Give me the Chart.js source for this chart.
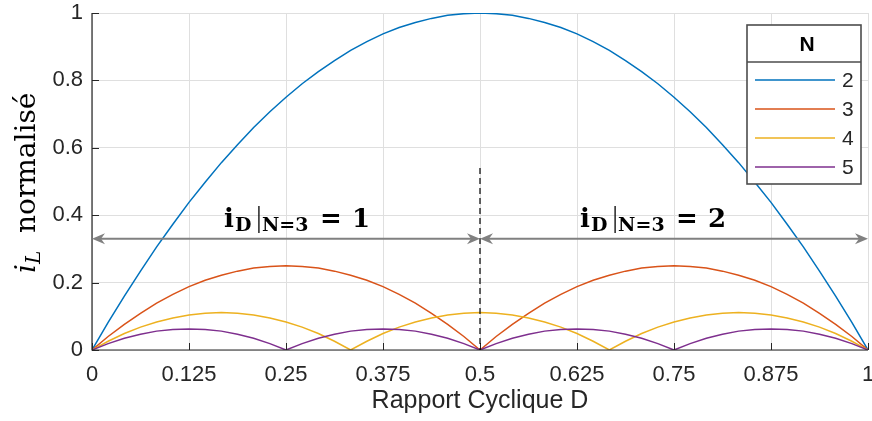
<!DOCTYPE html>
<html>
<head>
<meta charset="utf-8">
<script src="https://cdn.jsdelivr.net/npm/chart.js@4/dist/chart.umd.min.js"></script>
<style>
  html, body { margin: 0; padding: 0; background: #ffffff; }
  #wrap { width: 872px; height: 421px; }
</style>
</head>
<body>
<div id="wrap"><canvas id="c" width="872" height="421"></canvas></div>
<script>
// ---------- DATA ----------
const dutyCycle = [
  0, 0.0208, 0.0417, 0.0625, 0.0833, 0.1042, 0.125, 0.1458, 0.1667, 0.1875,
  0.2083, 0.2292, 0.25, 0.2708, 0.2917, 0.3125, 0.3333, 0.3542, 0.375, 0.3958,
  0.4167, 0.4375, 0.4583, 0.4792, 0.5, 0.5208, 0.5417, 0.5625, 0.5833, 0.6042,
  0.625, 0.6458, 0.6667, 0.6875, 0.7083, 0.7292, 0.75, 0.7708, 0.7917, 0.8125,
  0.8333, 0.8542, 0.875, 0.8958, 0.9167, 0.9375, 0.9583, 0.9792, 1
];
const rippleN2 = [
  0, 0.082, 0.160, 0.234, 0.306, 0.373, 0.438, 0.498, 0.556, 0.609,
  0.660, 0.707, 0.750, 0.790, 0.826, 0.859, 0.889, 0.915, 0.938, 0.957,
  0.972, 0.984, 0.993, 0.998, 1, 0.998, 0.993, 0.984, 0.972, 0.957,
  0.938, 0.915, 0.889, 0.859, 0.826, 0.790, 0.750, 0.707, 0.660, 0.609,
  0.556, 0.498, 0.438, 0.373, 0.306, 0.234, 0.160, 0.082, 0
];
const rippleN3 = [
  0, 0.040, 0.076, 0.109, 0.139, 0.165, 0.188, 0.207, 0.222, 0.234,
  0.243, 0.248, 0.250, 0.248, 0.243, 0.234, 0.222, 0.207, 0.188, 0.165,
  0.139, 0.109, 0.076, 0.040, 0, 0.040, 0.076, 0.109, 0.139, 0.165,
  0.188, 0.207, 0.222, 0.234, 0.243, 0.248, 0.250, 0.248, 0.243, 0.234,
  0.222, 0.207, 0.188, 0.165, 0.139, 0.109, 0.076, 0.040, 0
];
const rippleN4 = [
  0, 0.026, 0.049, 0.068, 0.083, 0.095, 0.104, 0.109, 0.111, 0.109,
  0.104, 0.095, 0.083, 0.068, 0.049, 0.026, 0, 0.026, 0.049, 0.068,
  0.083, 0.095, 0.104, 0.109, 0.111, 0.109, 0.104, 0.095, 0.083, 0.068,
  0.049, 0.026, 0, 0.026, 0.049, 0.068, 0.083, 0.095, 0.104, 0.109,
  0.111, 0.109, 0.104, 0.095, 0.083, 0.068, 0.049, 0.026, 0
];
const rippleN5 = [
  0, 0.019, 0.035, 0.047, 0.056, 0.061, 0.0625, 0.061, 0.056, 0.047,
  0.035, 0.019, 0, 0.019, 0.035, 0.047, 0.056, 0.061, 0.0625, 0.061,
  0.056, 0.047, 0.035, 0.019, 0, 0.019, 0.035, 0.047, 0.056, 0.061,
  0.0625, 0.061, 0.056, 0.047, 0.035, 0.019, 0, 0.019, 0.035, 0.047,
  0.056, 0.061, 0.0625, 0.061, 0.056, 0.047, 0.035, 0.019, 0
];
const seriesNames = ['2', '3', '4', '5'];
const xTickLabels = ['0', '0.125', '0.25', '0.375', '0.5', '0.625', '0.75', '0.875', '1'];
const yTickLabels = ['0', '0.2', '0.4', '0.6', '0.8', '1'];
const xAxisTitle = 'Rapport Cyclique D';
const legendTitle = 'N';
const annotValues = ['1', '2'];

// ---------- STYLE ----------
const seriesColors = ['#0072BD', '#D95319', '#EDB120', '#7E2F8E'];
const axisColor = '#262626';
const gridColor = '#dfdfdf';
const sans = '"Liberation Sans", Arial, Helvetica, sans-serif';
const serif = '"DejaVu Serif", "Liberation Serif", serif';

const seriesValues = [rippleN2, rippleN3, rippleN4, rippleN5];
const datasets = seriesValues.map((vals, k) => ({
  label: seriesNames[k],
  data: dutyCycle.map((d, i) => ({ x: d, y: vals[i] })),
  borderColor: seriesColors[k],
  backgroundColor: seriesColors[k],
  borderWidth: 1.5,
  pointRadius: 0,
  tension: 0,
  fill: false,
  order: seriesValues.length - k
}));

const overlay = {
  id: 'overlay',
  afterDatasetsDraw(chart) {
    const { ctx, chartArea: a, scales } = chart;
    const X = v => scales.x.getPixelForValue(v);
    const Y = v => scales.y.getPixelForValue(v);
    ctx.save();

    // axes (left & bottom) with inward ticks
    ctx.strokeStyle = axisColor;
    ctx.lineWidth = 1.2;
    ctx.beginPath();
    ctx.moveTo(a.left, a.top); ctx.lineTo(a.left, a.bottom); ctx.lineTo(a.right, a.bottom);
    ctx.stroke();
    ctx.lineWidth = 1;
    ctx.beginPath();
    xTickLabels.forEach((_, i) => { const px = Math.round(X(i * 0.125)) + 0.5; ctx.moveTo(px, a.bottom); ctx.lineTo(px, a.bottom - 7); });
    yTickLabels.forEach((_, i) => { const py = Math.round(Y(i * 0.2)) + 0.5; ctx.moveTo(a.left, py); ctx.lineTo(a.left + 7, py); });
    ctx.stroke();

    // dashed vertical separator at D = 0.5
    ctx.strokeStyle = '#000000';
    ctx.lineWidth = 1.2;
    ctx.setLineDash([6, 4]);
    ctx.beginPath();
    ctx.moveTo(X(0.5), Y(0.54)); ctx.lineTo(X(0.5), Y(0));
    ctx.stroke();
    ctx.setLineDash([]);

    // double-headed arrows
    const arrowY = Y(0.33);
    const head = (tx, ty, dir) => {
      ctx.beginPath();
      ctx.moveTo(tx, ty);
      ctx.lineTo(tx - dir * 13, ty - 5.5);
      ctx.lineTo(tx - dir * 9, ty);
      ctx.lineTo(tx - dir * 13, ty + 5.5);
      ctx.closePath();
      ctx.fill();
    };
    ctx.strokeStyle = '#808080';
    ctx.fillStyle = '#808080';
    ctx.lineWidth = 2;
    [[0, 0.5], [0.5, 1]].forEach(([s, e]) => {
      const x1 = X(s), x2 = X(e);
      ctx.beginPath(); ctx.moveTo(x1 + 6, arrowY); ctx.lineTo(x2 - 6, arrowY); ctx.stroke();
      head(x1, arrowY, -1);
      head(x2, arrowY, 1);
    });

    // math annotations  i_D|_{N=3} = k
    const drawMath = (x0, base, val) => {
      ctx.fillStyle = '#000000';
      ctx.textBaseline = 'alphabetic';
      ctx.textAlign = 'left';
      ctx.font = 'bold 26px ' + serif;
      ctx.fillText('i', x0, base);
      ctx.font = 'bold 19px ' + serif;
      ctx.fillText('D', x0 + 11, base + 4);
      ctx.strokeStyle = '#000000';
      ctx.lineWidth = 1.3;
      ctx.beginPath(); ctx.moveTo(x0 + 35, base - 21); ctx.lineTo(x0 + 35, base + 6); ctx.stroke();
      ctx.font = 'bold 19px ' + serif;
      ctx.fillText('N=3', x0 + 38, base + 4);
      ctx.font = 'bold 26px ' + serif;
      ctx.fillText('=', x0 + 96, base);
      ctx.fillText(val, x0 + 128, base);
    };
    const textBase = Y(0.365);
    drawMath(X(0.170), textBase, annotValues[0]);
    drawMath(X(0.629), textBase, annotValues[1]);

    // y-axis title: i_L normalisé (rotated)
    ctx.save();
    ctx.translate(35, 273);
    ctx.rotate(-Math.PI / 2);
    ctx.fillStyle = '#000000';
    ctx.textAlign = 'left';
    ctx.textBaseline = 'alphabetic';
    ctx.font = 'italic 28px ' + serif;
    ctx.fillText('i', 0, 0);
    ctx.font = 'italic 20px ' + serif;
    ctx.fillText('L', 9, 5);
    ctx.font = '28px ' + serif;
    ctx.fillText('normalisé', 40, 0);
    ctx.restore();

    // legend box
    const lx = 747, ly = 25, lw = 114, lh = 159, hh = 37;
    ctx.fillStyle = '#ffffff';
    ctx.fillRect(lx, ly, lw, lh);
    ctx.strokeStyle = '#4d4d4d';
    ctx.lineWidth = 1.6;
    ctx.strokeRect(lx, ly, lw, lh);
    ctx.beginPath(); ctx.moveTo(lx, ly + hh); ctx.lineTo(lx + lw, ly + hh); ctx.stroke();
    ctx.fillStyle = '#000000';
    ctx.font = 'bold 21px ' + sans;
    ctx.textAlign = 'center';
    ctx.textBaseline = 'middle';
    ctx.fillText(legendTitle, lx + lw / 2 + 3, ly + hh / 2 + 2);
    seriesNames.forEach((name, k) => {
      const ey = 80 + k * 29;
      ctx.strokeStyle = seriesColors[k];
      ctx.lineWidth = 1.5;
      ctx.beginPath(); ctx.moveTo(755, ey); ctx.lineTo(835, ey); ctx.stroke();
      ctx.fillStyle = axisColor;
      ctx.font = '21px ' + sans;
      ctx.textAlign = 'left';
      ctx.textBaseline = 'middle';
      ctx.fillText(name, 842, ey + 1);
    });

    ctx.restore();
  }
};

new Chart(document.getElementById('c'), {
  type: 'line',
  data: { datasets },
  options: {
    responsive: false,
    animation: false,
    devicePixelRatio: 1,
    layout: { padding: { top: 13, right: 4, left: 0, bottom: 0 } },
    plugins: { legend: { display: false }, tooltip: { enabled: false } },
    scales: {
      x: {
        type: 'linear', min: 0, max: 1,
        afterFit: s => { s.height = 71; s.paddingLeft = 0; s.paddingRight = 0; },
        afterBuildTicks: s => { s.ticks = xTickLabels.map((_, i) => ({ value: i * 0.125 })); },
        ticks: {
          padding: 12, maxRotation: 0, autoSkip: false, color: axisColor,
          font: { family: sans, size: 22 },
          callback: (v) => xTickLabels[Math.round(v / 0.125)]
        },
        grid: { color: gridColor, lineWidth: 1, drawTicks: false },
        border: { display: false },
        title: { display: true, text: xAxisTitle, color: axisColor, font: { family: sans, size: 25 }, padding: { top: 0, bottom: 5 } }
      },
      y: {
        type: 'linear', min: 0, max: 1,
        afterFit: s => { s.width = 92; s.paddingTop = 0; s.paddingBottom = 0; },
        afterBuildTicks: s => { s.ticks = yTickLabels.map((_, i) => ({ value: i * 0.2 })); },
        ticks: {
          padding: 9, color: axisColor,
          font: { family: sans, size: 22 },
          callback: (v) => yTickLabels[Math.round(v / 0.2)]
        },
        grid: { color: gridColor, lineWidth: 1, drawTicks: false },
        border: { display: false }
      }
    }
  },
  plugins: [overlay]
});
</script>
</body>
</html>
